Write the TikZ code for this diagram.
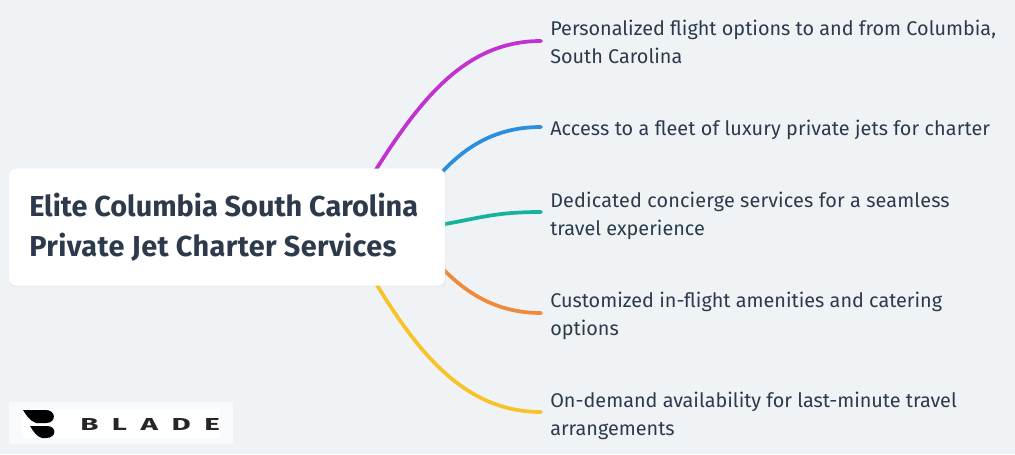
\documentclass[tikz,border=0pt]{standalone}
\usepackage{fontspec}
\setmainfont{Fira Sans}
\definecolor{bgc}{HTML}{F0F3F6}
\definecolor{ink}{HTML}{2C3A4B}
\definecolor{cA}{HTML}{C033D0}
\definecolor{cB}{HTML}{2B8FDD}
\definecolor{cC}{HTML}{17B29C}
\definecolor{cD}{HTML}{EE8A3C}
\definecolor{cE}{HTML}{F8C229}
\tikzset{
 leaf/.style={anchor=north west,inner sep=0pt,text=ink,font=\fontsize{14.87pt}{20.9pt}\selectfont,align=left},
 branch/.style={line width=2.8pt,line cap=round},
 hubbox/.style={fill=white,rounded corners=6pt,draw=none,minimum width=327pt,minimum height=87.75pt,inner sep=0pt},
}
\begin{document}
\begin{tikzpicture}[x=0.75pt,y=-0.75pt]
\useasboundingbox (0,0) rectangle (1015,454);
\fill[bgc] (0,0) rectangle (1015,454);
\coordinate (sa) at (360,195);
\coordinate (sb) at (425,190);
\coordinate (sc) at (425,227);
\coordinate (sd) at (425,251);
\coordinate (se) at (360,258);
\coordinate (ea) at (541,41);
\coordinate (eb) at (541,127);
\coordinate (ec) at (541,212);
\coordinate (ed) at (541,313);
\coordinate (ee) at (541,412);
\draw[branch,cA] (sa) -- (377,168) .. controls (425,92) and (470,41) .. (ea);
\draw[branch,cB] (sb) -- (444,170) .. controls (470,143) and (500,127) .. (eb);
\draw[branch,cC] (sc) -- (445,224) .. controls (480,218) and (495,212) .. (ec);
\draw[branch,cD] (sd) -- (445,271) .. controls (470,296) and (500,313) .. (ed);
\draw[branch,cE] (se) -- (377,285) .. controls (423,361) and (470,412) .. (ee);
\fill[black!35,opacity=.08] (10,171) rectangle (446,287);
\node[hubbox] (hub) at (227,227) {};
\node[anchor=west,inner sep=0pt,text=ink,font=\fontsize{21.65pt}{30pt}\selectfont\bfseries,align=left] (title) at (29,227) {Elite Columbia South Carolina\\{\addfontfeature{LetterSpace=1.3}Private Jet Charter Services}};
\node[leaf] (la) at (550,19.5) {Personalized flight options to and from Columbia,\\South Carolina};
\node[leaf] (lb) at (550,120) {\addfontfeature{LetterSpace=0.5}Access to a fleet of luxury private jets for charter};
\node[leaf] (lc) at (550,192) {\addfontfeature{LetterSpace=0.7}Dedicated concierge services for a seamless\\travel experience};
\node[leaf] (ld) at (550,292) {Customized in-flight amenities and catering\\options};
\node[leaf] (le) at (550,392) {On-demand availability for last-minute travel\\arrangements};
% logo
\fill[white!60!bgc] (9,402) rectangle (233,444);
\fill[white] (22,409) rectangle (220,438);
\fill[black] (23,410) -- (46,410) .. controls (56,410) and (57,423) .. (46,423) -- (36,423) .. controls (30,421) and (26,415) .. (23,410) -- cycle;
\fill[black] (30,426) -- (47,426) .. controls (57,426) and (57,438) .. (46,438) -- (42,438) .. controls (37,437) and (33,431) .. (30,426) -- cycle;
\node[inner sep=0pt,anchor=west,text=black!85,font=\fontsize{13pt}{14pt}\selectfont\bfseries\addfontfeature{LetterSpace=46}] (logo) at (80,424) {\scalebox{1.7}[1]{BLADE}};
\end{tikzpicture}
\end{document}
